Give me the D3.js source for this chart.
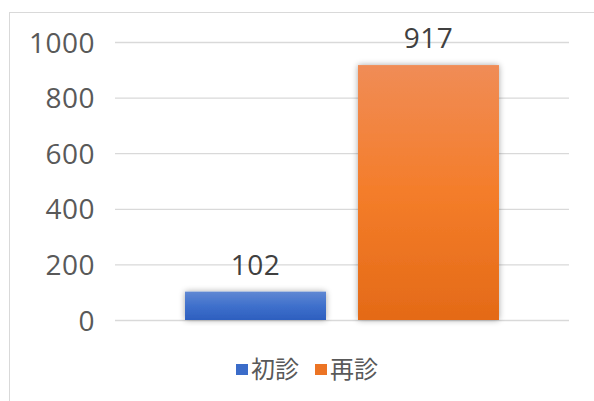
<!DOCTYPE html>
<html><head><meta charset="utf-8">
<script src="https://cdn.jsdelivr.net/npm/d3@7"></script>
<style>body{margin:0;background:#fff}svg{display:block}</style>
</head><body>
<script>
const seriesNames = ["初診", "再診"];
const seriesValues = [102, 917];
const yTicks = [0, 200, 400, 600, 800, 1000];
const category = ["総数"];

const W = 594, H = 401;
const svg = d3.select("body").append("svg").attr("width", W).attr("height", H);
const defs = svg.append("defs");
const grads = [["#5f88d3", "#3f70cc", "#2d5fbf"], ["#f08c56", "#f47d2a", "#e46a17"]];
grads.forEach((g, i) => {
  const lg = defs.append("linearGradient").attr("id", "g" + i).attr("x1", 0).attr("y1", 0).attr("x2", 0).attr("y2", 1);
  lg.append("stop").attr("offset", 0).attr("stop-color", g[0]);
  lg.append("stop").attr("offset", 0.5).attr("stop-color", g[1]);
  lg.append("stop").attr("offset", 1).attr("stop-color", g[2]);
});
const f = defs.append("filter").attr("id", "sh").attr("x", "-20%").attr("y", "-20%").attr("width", "140%").attr("height", "140%");
f.append("feGaussianBlur").attr("in", "SourceAlpha").attr("stdDeviation", 3).attr("result", "b");
f.append("feOffset").attr("in", "b").attr("dx", 0).attr("dy", 0).attr("result", "o");
f.append("feComponentTransfer").attr("in", "o").attr("result", "o2").append("feFuncA").attr("type", "linear").attr("slope", 0.35);
const m = f.append("feMerge"); m.append("feMergeNode").attr("in", "o2"); m.append("feMergeNode").attr("in", "SourceGraphic");

// border (right/bottom off-canvas)
svg.append("rect").attr("x", 9.5).attr("y", 12.5).attr("width", 700).attr("height", 500)
  .attr("fill", "none").attr("stroke", "#d9d9d9").attr("stroke-width", 1);

const x0 = 115, x1 = 569;
const y = d3.scaleLinear().domain([0, 1000]).range([320, 42]);
const xc = d3.scaleBand().domain(category).range([x0, x1]).paddingInner(0).paddingOuter(0.223);
const xs = d3.scaleBand().domain(seriesNames).range([0, xc.bandwidth()]).paddingInner(0.185);

const ax = svg.append("g").attr("transform", `translate(${x0},0)`)
  .call(d3.axisLeft(y).tickValues(yTicks).tickFormat(d3.format("d")).tickSize(-(x1 - x0)).tickPadding(20));
ax.select(".domain").remove();
ax.selectAll(".tick line").attr("stroke", "#d9d9d9").attr("stroke-width", 1.3);
ax.selectAll(".tick text").attr("fill", "#595959").attr("font-family", "'Open Sans', 'Noto Sans', sans-serif")
  .attr("font-size", 28).attr("letter-spacing", 0.5).attr("dy", "0.36em");

const g = svg.append("g").attr("transform", `translate(${xc(category[0])},0)`);
seriesNames.forEach((s, i) => {
  g.append("rect").attr("x", xs(s)).attr("y", y(seriesValues[i])).attr("width", xs.bandwidth())
    .attr("height", y(0) - y(seriesValues[i])).attr("fill", `url(#g${i})`).attr("filter", "url(#sh)");
  g.append("text").attr("x", xs(s) + xs.bandwidth() / 2).attr("y", y(seriesValues[i]) - 17)
    .attr("text-anchor", "middle").attr("fill", "#404040").attr("letter-spacing", 0.5)
    .attr("font-family", "'Open Sans', 'Noto Sans', sans-serif").attr("font-size", 28).text(seriesValues[i]);
});

// legend
const lx = [236, 315];
const lcol = ["#3b6cc9", "#ec7424"];
seriesNames.forEach((s, i) => {
  svg.append("rect").attr("x", lx[i]).attr("y", 364).attr("width", 12).attr("height", 11).attr("fill", lcol[i]);
  svg.append("text").attr("x", lx[i] + 15).attr("y", 378).attr("fill", "#595959")
    .attr("font-family", "'Noto Sans CJK JP', sans-serif").attr("font-size", 24).text(s);
});
</script>
</body></html>
